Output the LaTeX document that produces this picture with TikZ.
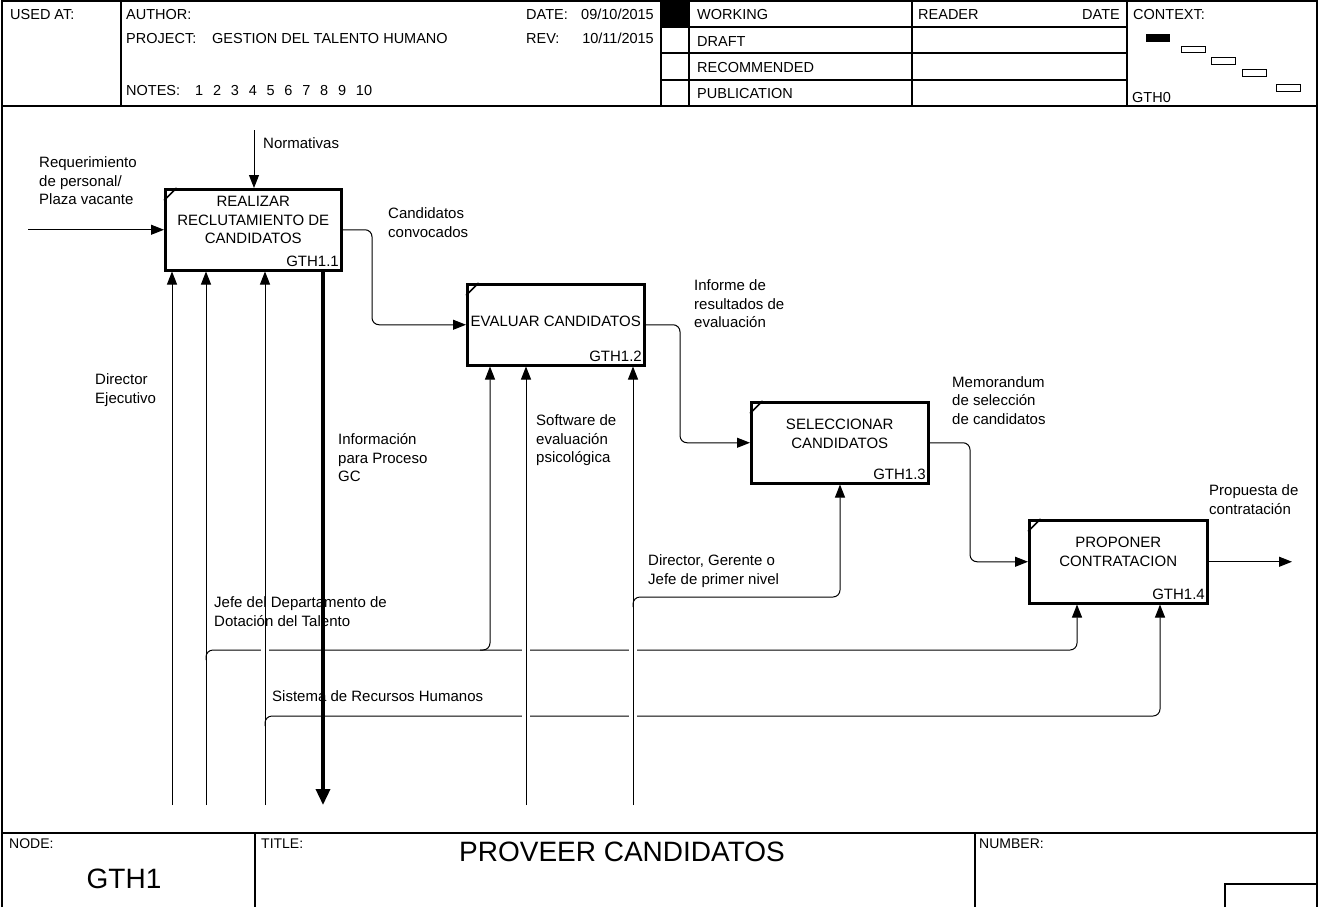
\documentclass[tikz,border=0pt]{standalone}
\usepackage{fontspec}
\setmainfont{Liberation Sans}
\usetikzlibrary{arrows.meta,backgrounds,calc}
\newcommand\notesp{\hspace{9.8pt}}
\begin{document}
\begin{tikzpicture}[x=1pt,y=-1pt,
  lab/.style={font=\fontsize{15}{18.5}\selectfont, align=left, anchor=north west, inner sep=0pt},
  hd/.style={font=\fontsize{14.5}{17}\selectfont, anchor=base west, inner sep=0pt},
  hde/.style={hd, anchor=base east},
  sm/.style={font=\fontsize{14}{16}\selectfont, anchor=base west, inner sep=0pt},
  big/.style={font=\fontsize{28}{30}\selectfont, inner sep=0pt},
  act/.style={draw, line width=2.5pt, anchor=north west, inner sep=0pt},
  acttext/.style={font=\fontsize{15}{18.5}\selectfont, align=center, inner sep=0pt},
  actid/.style={font=\fontsize{15}{18}\selectfont, anchor=base east, inner sep=0pt},
  arr/.style={line width=1pt, -{Triangle[length=13pt,width=10pt]}},
  thickarr/.style={line width=3.5pt, -{Triangle[length=16pt,width=14pt]}},
  bridge/.style={preaction={draw, white, line width=8pt, -}},
  frame/.style={line width=1.2pt},
  rule/.style={line width=1.1pt},
  tick/.style={line width=1.5pt},
  rc/.style={rounded corners=7pt}
]
\useasboundingbox (0,0) rectangle (1319,907);

% ---------- frame and header ----------
\draw[frame] (2,907) -- (2,1) -- (1317,1) -- (1317,907);
\draw[frame] (2,106) -- (1317,106);
\draw[rule] (121,1) -- (121,106);
\draw[rule] (661,1) -- (661,106);
\draw[rule] (689,1) -- (689,106);
\draw[rule] (912,1) -- (912,106);
\draw[rule] (1127,1) -- (1127,106);
\draw[rule] (661,27) -- (1127,27);
\draw[rule] (661,53) -- (1127,53);
\draw[rule] (661,80) -- (1127,80);
\fill (661,1) rectangle (689,27);

\node[hd] (usedat) at (10,20) {USED AT:};
\node[hd] (author) at (126,20) {AUTHOR:};
\node[hd] (project) at (126,44) {PROJECT:};
\node[hd] (projname) at (212,44) {GESTION DEL TALENTO HUMANO};
\node[hd] (notes) at (126,95) {NOTES:\hspace{15pt}1\notesp2\notesp3\notesp4\notesp5\notesp6\notesp7\notesp8\notesp9\notesp10};
\node[hd] (datek) at (526,20) {DATE:};
\node[hde] (datev) at (654,20) {09/10/2015};
\node[hd] (revk) at (526,44) {REV:};
\node[hde] (revv) at (654,44) {10/11/2015};
\node[hd] (working) at (697,20) {WORKING};
\node[hd] (draft) at (697,47) {DRAFT};
\node[hd] (recom) at (697,72) {RECOMMENDED};
\node[hd] (publ) at (697,98) {PUBLICATION};
\node[hd] (reader) at (918,20) {READER};
\node[hde] (rdate) at (1120,20) {DATE};
\node[hd] (context) at (1133,20) {CONTEXT:};
\node[hd] (gth0) at (1132,102) {GTH0};
\fill (1146,34) rectangle (1170,42);
\draw (1181,46) rectangle (1205,52);
\draw (1211,57) rectangle (1235,64);
\draw (1242,69) rectangle (1266,76);
\draw (1276,84) rectangle (1300,91);

% ---------- bottom title block ----------
\draw[line width=1.6pt] (2,833) -- (1317,833);
\draw[rule] (255,833) -- (255,907);
\draw[rule] (975,833) -- (975,907);
\draw[rule] (1225,907) -- (1225,884) -- (1317,884);
\node[sm] (nodek) at (9,848) {NODE:};
\node[sm] (titlek) at (261,848) {TITLE:};
\node[sm] (numberk) at (979,848) {NUMBER:};
\node[big] (title) at (622,852) {PROVEER CANDIDATOS};
\node[big] (nodeid) at (124,879) {GTH1};

% ---------- activity boxes ----------
\node[act, minimum width=176pt, minimum height=81pt] (b1) at (164,188) {};
\node[act, minimum width=177pt, minimum height=81pt] (b2) at (466,283) {};
\node[act, minimum width=177pt, minimum height=81pt] (b3) at (750,401) {};
\node[act, minimum width=178pt, minimum height=83pt] (b4) at (1028,519) {};
\foreach \b in {b1,b2,b3,b4}{
  \draw[tick] ([yshift=-12.5pt]\b.north west) -- ([xshift=12.5pt]\b.north west);
}
\node[acttext] (t1) at ([yshift=9.5pt]b1.center) {REALIZAR\\RECLUTAMIENTO DE\\CANDIDATOS};
\node[acttext] (t2) at ([yshift=3.5pt]b2.center) {EVALUAR CANDIDATOS};
\node[acttext] (t3) at ([yshift=9pt]b3.center) {SELECCIONAR\\CANDIDATOS};
\node[acttext] (t4) at ([yshift=10pt]b4.center) {PROPONER\\CONTRATACION};
\node[actid] (id1) at ([xshift=-3.5pt,yshift=5.5pt]b1.south east) {GTH1.1};
\node[actid] (id2) at ([xshift=-3.5pt,yshift=5.5pt]b2.south east) {GTH1.2};
\node[actid] (id3) at ([xshift=-3.5pt,yshift=5.5pt]b3.south east) {GTH1.3};
\node[actid] (id4) at ([xshift=-3.5pt,yshift=5.5pt]b4.south east) {GTH1.4};

% ---------- routing points ----------
\coordinate (i1) at (28,0);
\coordinate (c1) at (254,130);
\coordinate (k1) at (372,0);
\coordinate (k2) at (680,0);
\coordinate (k3) at (970,0);
\coordinate (o4) at (1292,0);
\coordinate (o1) at (323,805);
\coordinate (m1) at (172,805);
\coordinate (m2) at (206,805);
\coordinate (m3) at (265,805);
\coordinate (m4) at (526,805);
\coordinate (m5) at (633,805);
\coordinate (jL) at (206,650);
\coordinate (jR) at (1077,650);
\coordinate (jB) at (490,650);
\coordinate (sL) at (265,716);
\coordinate (sR) at (1160,716);
\coordinate (dL) at (633,597);
\coordinate (dR) at (840,597);

% ---------- connectors ----------
\begin{scope}[on background layer]
\draw[arr] (i1 |- b1.west) -- (b1.west);
\draw[arr] (c1) -- (c1 |- b1.north);
\draw[arr, rc] (b1.east) -- (b1.east -| k1) -- (b2.west -| k1) -- (b2.west);
\draw[arr, rc] (b2.east) -- (b2.east -| k2) -- (b3.west -| k2) -- (b3.west);
\draw[arr, rc] (b3.east) -- (b3.east -| k3) -- (b4.west -| k3) -- (b4.west);
\draw[arr] (b4.east) -- (b4.east -| o4);
\draw[thickarr] (o1 |- b1.south) -- (o1);
\draw[arr] (m1) -- (m1 |- b1.south);
\draw[arr] (m2) -- (m2 |- b1.south);
\draw[arr, rc] ([yshift=-10pt]jL) -- (jL) -- (jR) -- (jR |- b4.south);
\draw[arr, rc] ([xshift=-10pt]jB) -- (jB) -- (jB |- b2.south);
\draw[arr, bridge] (m3) -- (m3 |- b1.south);
\draw[arr, rc] ([yshift=-10pt]sL) -- (sL) -- (sR) -- (sR |- b4.south);
\draw[arr, bridge] (m4) -- (m4 |- b2.south);
\draw[arr, bridge] (m5) -- (m5 |- b2.south);
\draw[arr, rc] ([yshift=-10pt]dL) -- (dL) -- (dR) -- (dR |- b3.south);
\end{scope}

% ---------- labels ----------
\node[lab] (lreq) at (39,154.5) {\strut Requerimiento\\de personal/\\Plaza vacante};
\node[lab] (lnorm) at (263,135.5) {\strut Normativas};
\node[lab] (lcand) at (388,205.5) {\strut Candidatos\\convocados};
\node[lab] (linf) at (694,277.5) {\strut Informe de\\resultados de\\evaluación};
\node[lab] (lmem) at (952,374) {\strut Memorandum\\de selección\\de candidatos};
\node[lab] (lprop) at (1209,482.5) {\strut Propuesta de\\contratación};
\node[lab] (ldir) at (95,371.5) {\strut Director\\Ejecutivo};
\node[lab] (lsoft) at (536,412.5) {\strut Software de\\evaluación\\psicológica};
\node[lab] (linfo) at (338,431.5) {\strut Información\\para Proceso\\GC};
\node[lab] (ldg) at (648,552.5) {\strut Director, Gerente o\\Jefe de primer nivel};
\node[lab] (ljefe) at (214,594.5) {\strut Jefe del Departamento de\\Dotación del Talento};
\node[lab] (lsis) at (272,688.5) {\strut Sistema de Recursos Humanos};
\end{tikzpicture}
\end{document}
